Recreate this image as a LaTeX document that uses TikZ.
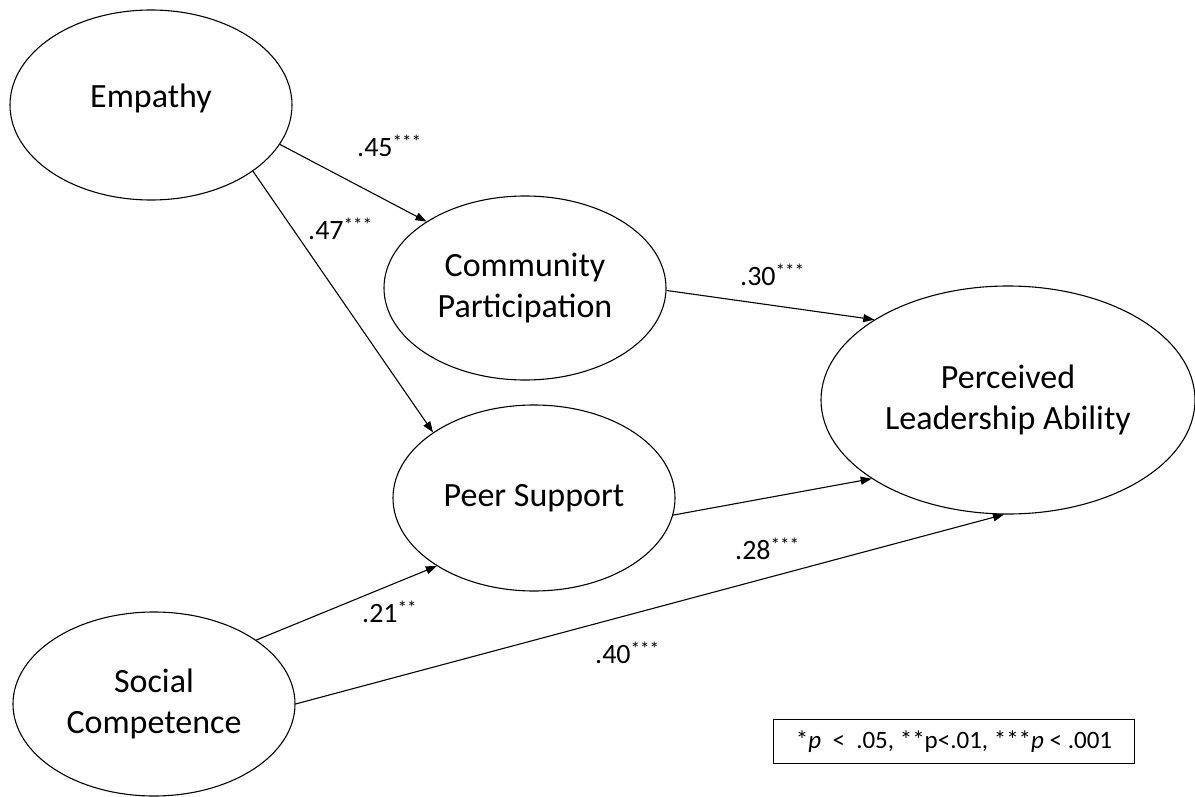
\documentclass[tikz,border=0pt]{standalone}
\usepackage{fontspec}
\setmainfont{Carlito}
\usetikzlibrary{shapes.geometric,arrows.meta}
% raised significance stars after a path coefficient
\newcommand{\sigstars}[1]{\raisebox{8pt}{\fontsize{19}{19}\selectfont #1}}
\begin{document}
\begin{tikzpicture}[x=1pt,y=-1pt,
  latent/.style={ellipse,draw,line width=1.1pt,inner sep=0pt,align=center,
    font=\fontsize{34}{41}\selectfont},
  effect/.style={line width=1.1pt,-{Triangle[length=11pt,width=8pt]}},
  coef/.style={anchor=base west,inner sep=0pt,font=\fontsize{28}{28}\selectfont},
  keybox/.style={draw,line width=1pt,inner sep=0pt,anchor=north west,
    font=\fontsize{25}{25}\selectfont}]
\useasboundingbox (0,0) rectangle (1195,797);

% latent constructs
\node[latent,minimum width=282pt,minimum height=190pt] (emp) at (151,105)
  {\raisebox{7pt}[\height][\depth]{Empathy}};
\node[latent,minimum width=282pt,minimum height=184pt] (com) at (525,288) {Community\\Participation};
\node[latent,minimum width=282pt,minimum height=186pt] (peer) at (534,498) {Peer Support};
\node[latent,minimum width=374pt,minimum height=228pt] (pla) at (1008,400) {Perceived\\Leadership Ability};
\node[latent,minimum width=282pt,minimum height=184pt] (soc) at (154,704) {Social\\Competence};

% structural paths
\draw[effect] (emp.-17.5) -- (com.146);
\draw[effect] (emp.-33.7) -- (peer.147);
\draw[effect] (com.-1) -- (pla.149);
\draw[effect] (peer.-7) -- (pla.210);
\draw[effect] (soc.32) -- (peer.215);
\draw[effect] (soc.0) -- (pla.268);

% standardized coefficients
\node[coef] (c1) at (357,157) {.45\sigstars{***}};
\node[coef] (c2) at (308,240) {.47\sigstars{***}};
\node[coef] (c3) at (740,285) {.30\sigstars{***}};
\node[coef] (c4) at (735,559) {.28\sigstars{***}};
\node[coef] (c5) at (362,622) {.21\sigstars{**}};
\node[coef] (c6) at (595,663) {.40\sigstars{***}};

% significance key
\node[keybox,minimum width=361pt,minimum height=44pt] (key) at (773,719)
  {*\textit{p}\ \ <\ \ .05, **p<.01, ***\textit{p} < .001};
\end{tikzpicture}
\end{document}
